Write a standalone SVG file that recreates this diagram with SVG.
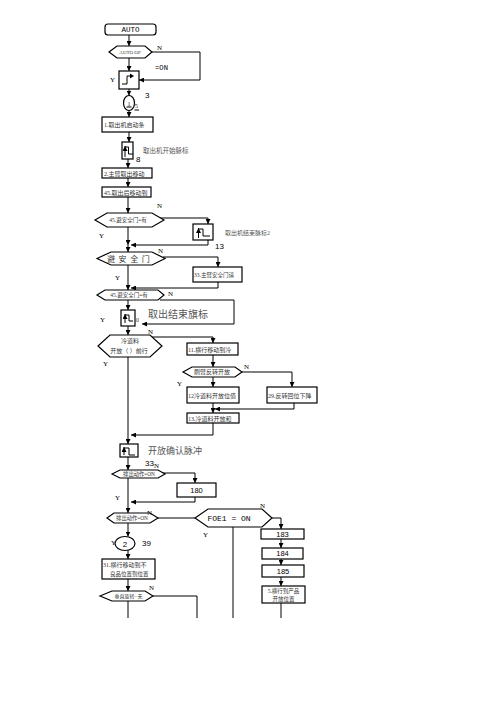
<svg xmlns="http://www.w3.org/2000/svg" width="496" height="702" viewBox="0 0 496 702">
<defs>
<marker id="ah" markerWidth="5" markerHeight="5" refX="5" refY="2.5" orient="auto" markerUnits="userSpaceOnUse"><path d="M0,0 L5,2.5 L0,5 z" fill="#000"/></marker>
<style>
.box{fill:#fff;stroke:#000;stroke-width:1.2}
.ln{fill:none;stroke:#000;stroke-width:1}
.a{marker-end:url(#ah)}
.sym{fill:none;stroke:#000;stroke-width:1}
.t{font-family:"Liberation Serif","Noto Sans CJK SC",serif;fill:#333}
.g{fill:#555}
.m{font-family:"Liberation Mono",monospace;fill:#000}
.s{font-family:"Liberation Sans",sans-serif;fill:#000}
.lb{font-family:"Liberation Serif",serif;font-size:7px;fill:#000}
.c{text-anchor:middle}
</style>
</defs>
<rect width="496" height="702" fill="#fff"/>

<g id="connectors">
<path class="ln a" d="M129,35 V46"/>
<path class="ln a" d="M129,58 V71"/>
<path class="ln a" d="M152,52 H200 V80 H139"/>
<path class="ln a" d="M129,89 V95.5"/>
<path class="ln a" d="M129,110.5 V117"/>
<path class="ln a" d="M129,132 V142"/>
<path class="ln a" d="M128,159 V168"/>
<path class="ln a" d="M128,178 V187"/>
<path class="ln a" d="M128,197 V213"/>
<path class="ln a" d="M160,218 H208 V224"/>
<path class="ln a" d="M128,227 V245"/>
<path class="ln a" d="M208,240 V245 H131"/>
<path class="ln a" d="M128,245 V252"/>
<path class="ln a" d="M163,257 H218 V267"/>
<path class="ln a" d="M128,265 V290"/>
<path class="ln a" d="M218,282 V288 H131"/>
<path class="ln a" d="M160,300 H234 V324 H142"/>
<path class="ln a" d="M128,300 V310"/>
<path class="ln a" d="M128,326 V335"/>
<path class="ln a" d="M152,337 H213 V343"/>
<path class="ln a" d="M128,357 V444"/>
<path class="ln a" d="M213,423 V435 H131"/>
<path class="ln a" d="M213,355 V367"/>
<path class="ln a" d="M242,372 H292 V387"/>
<path class="ln a" d="M213,377 V387"/>
<path class="ln a" d="M294,403 V409 H215"/>
<path class="ln a" d="M213,403 V413"/>
<path class="ln a" d="M128,457 V470"/>
<path class="ln a" d="M160,473 H195 V483"/>
<path class="ln a" d="M128,478 V513"/>
<path class="ln a" d="M195,497 V502 H131"/>
<path class="ln" d="M158,518 H195"/>
<path class="ln a" d="M128,523 V536.5"/>
<path class="ln a" d="M128,550 V559"/>
<path class="ln a" d="M128,579 V591"/>
<path class="ln" d="M153,596 H197 V618"/>
<path class="ln" d="M128,601 V618"/>
<path class="ln" d="M233,527 V618"/>
<path class="ln a" d="M272,518 H281 V529"/>
<path class="ln a" d="M281,539 V548"/>
<path class="ln a" d="M281,559 V565"/>
<path class="ln a" d="M281,577 V586"/>
<path class="ln" d="M281,603 V618"/>
</g>

<g id="n-auto">
<rect class="box" x="105" y="24" width="51" height="11" rx="3"/>
<text class="m c" x="130.5" y="32" font-size="7.5">AUTO</text>
</g>
<g id="n-autoop">
<polygon class="box" points="109,52 117,46 145,46 152,52 145,58 117,58"/>
<text class="t c" x="130" y="54" font-size="5">AUTO OP</text>
<text class="lb" x="157" y="50">N</text>
<text class="m" x="155" y="70" font-size="7.2">=ON</text>
</g>
<g id="n-pulse3">
<rect class="box" x="119" y="71" width="20" height="18"/>
<polyline class="sym" points="122,84 127,84 127,76 131,76"/>
<polygon points="130,73.5 134,76 130,78.5" fill="#000"/>
<text class="lb" x="110" y="82">Y</text>
<text class="s" x="145" y="98" font-size="8">3</text>
</g>
<g id="n-circle1">
<ellipse class="box" cx="129" cy="103" rx="5.5" ry="7.5"/>
<text class="t c" x="129" y="105.5" font-size="7">1</text>
<line class="sym" x1="126.5" y1="107" x2="131.5" y2="107" stroke-width="0.7"/>
<text class="t" x="134.5" y="108" font-size="7">5</text>
<line class="sym" x1="134.5" y1="110" x2="139" y2="110" stroke-width="0.7"/>
</g>
<g id="n-box1">
<rect class="box" x="102" y="117" width="51" height="15"/>
<text class="t" x="104" y="127" font-size="6">1.取出机启动条</text>
</g>
<g id="n-pulse8">
<rect class="box" x="122" y="142" width="11" height="17"/>
<path class="sym a" d="M125,157 V146"/>
<polyline class="sym" points="125,147 128.5,147 128.5,154 133,154"/>
<text class="t g" x="143" y="153" font-size="6.5">取出机开始脉标</text>
<text class="s" x="136" y="162" font-size="8">8</text>
</g>
<g id="n-box2">
<rect class="box" x="102" y="168" width="50" height="10"/>
<text class="t" x="104" y="175.5" font-size="6">2.主臂取出移动</text>
</g>
<g id="n-box45">
<rect class="box" x="102" y="187" width="49" height="10"/>
<text class="t" x="104" y="194.5" font-size="6">45.取出后移动到</text>
</g>
<g id="n-hex2">
<polygon class="box" points="95,220 107,213 152,213 164,220 152,227 107,227"/>
<text class="t c" x="128" y="222" font-size="5.5">45.避安全门=有</text>
<text class="lb" x="157" y="208">N</text>
<text class="lb" x="99" y="238">Y</text>
</g>
<g id="n-pulse13">
<rect class="box" x="193" y="224" width="20" height="16"/>
<path class="sym a" d="M198.5,238 V228"/>
<polyline class="sym" points="198.5,229 203,229 203,236 210,236"/>
<text class="t g" x="225" y="235" font-size="6">取出机结束脉标2</text>
<text class="s" x="215" y="249" font-size="8">13</text>
</g>
<g id="n-hex3">
<polygon class="box" points="97,258.5 111,252 152,252 165,258.5 152,265 111,265"/>
<text class="t" x="107" y="261.5" font-size="8" letter-spacing="0.8">避 安 全 门</text>
<text class="lb" x="158" y="253">N</text>
<text class="lb" x="115" y="280">Y</text>
</g>
<g id="n-box33">
<rect class="box" x="193" y="267" width="49" height="15"/>
<text class="t" x="194" y="276.5" font-size="5.5">33.主臂安全门请</text>
</g>
<g id="n-hex4">
<polygon class="box" points="97,295 105,290 158,290 164,295 158,300 105,300"/>
<text class="t c" x="129" y="297" font-size="5.5">45.避安全门=有</text>
<text class="lb" x="168" y="296">N</text>
<text class="lb" x="100" y="322">Y</text>
</g>
<g id="n-pulseD">
<rect class="box" x="121" y="310" width="14" height="16"/>
<path class="sym a" d="M125,323 V314"/>
<polyline class="sym" points="125,315 129,315 129,321 133,321"/>
<text class="t" x="136" y="321.5" font-size="6">0</text>
<text class="t g" x="148" y="318" font-size="10">取出结束旗标</text>
</g>
<g id="n-hex5">
<polygon class="box" points="98,346 110,335 150,335 162,346 150,357 110,357"/>
<text class="t c" x="130" y="342.5" font-size="6">冷道料</text>
<text class="t c" x="129" y="353" font-size="6">开放（ ）前行</text>
<text class="lb" x="148" y="334">N</text>
<text class="lb" x="103" y="366">Y</text>
</g>
<g id="n-box11">
<rect class="box" x="187" y="343" width="51" height="12"/>
<text class="t" x="188" y="351.5" font-size="6">11.横行移动到冷</text>
</g>
<g id="n-hex6">
<polygon class="box" points="183,372 192,367 235,367 242,372 235,377 192,377"/>
<text class="t c" x="212" y="374" font-size="6">刷臂反转开放</text>
<text class="lb" x="244" y="369">N</text>
<text class="lb" x="177" y="386">Y</text>
</g>
<g id="n-box12">
<rect class="box" x="187" y="387" width="52" height="16"/>
<text class="t" x="188" y="397.5" font-size="6">12冷道料开放位值</text>
</g>
<g id="n-box29">
<rect class="box" x="267" y="387" width="50" height="16"/>
<text class="t" x="268" y="397.5" font-size="6">29.反转回位下降</text>
</g>
<g id="n-box13">
<rect class="box" x="187" y="413" width="52" height="10"/>
<text class="t" x="188" y="420.5" font-size="6">13.冷道料开放和</text>
</g>
<g id="n-pulseE">
<rect class="box" x="120" y="444" width="18" height="13"/>
<path class="sym a" d="M124,455 V447"/>
<polyline class="sym" points="124,448 129,448 129,455 135,455"/>
<text class="t g" x="148" y="454" font-size="9">开放确认脉冲</text>
<text class="s" x="145" y="466" font-size="8">33</text>
</g>
<g id="n-hex7">
<polygon class="box" points="112,474 120,470 158,470 165,474 158,478 120,478"/>
<text class="t c" x="139" y="476" font-size="5.3">排出动作=ON</text>
<text class="lb" x="154" y="468">N</text>
<text class="lb" x="115" y="500">Y</text>
</g>
<g id="n-box180">
<rect class="box" x="177" y="483" width="39" height="14"/>
<text class="s c" x="196.5" y="493" font-size="7.5">180</text>
</g>
<g id="n-hex8">
<polygon class="box" points="107,518 114,513 150,513 158,518 150,523 114,523"/>
<text class="t c" x="132" y="520" font-size="5.3">排出动作=ON</text>
<text class="lb" x="147" y="515">N</text>
</g>
<g id="n-foe1">
<polygon class="box" points="195,518 208,509 262,509 272,518 262,527 208,527"/>
<text class="m c" x="229" y="521" font-size="8">FOE1 = ON</text>
<text class="lb" x="260" y="508">N</text>
<text class="lb" x="203" y="537">Y</text>
</g>
<g id="n-circle2">
<ellipse class="box" cx="125" cy="543.5" rx="10" ry="7"/>
<text class="s c" x="125" y="546.5" font-size="8">2</text>
<text class="lb" x="111" y="545">Y</text>
<text class="s" x="142" y="546" font-size="8">39</text>
</g>
<g id="n-box31">
<rect class="box" x="102" y="559" width="53" height="20"/>
<text class="t" x="103" y="566.5" font-size="6">31.横行移动到不</text>
<text class="t" x="110" y="575.5" font-size="5.5">良品位置到位置</text>
</g>
<g id="n-hex9">
<polygon class="box" points="100,596 112,591 145,591 153,596 145,601 112,601"/>
<text class="t c" x="128.5" y="598" font-size="5">垂直旋转=无</text>
<text class="lb" x="149" y="590">N</text>
</g>
<g id="n-box183">
<rect class="box" x="261" y="529" width="43" height="10"/>
<text class="s c" x="282.5" y="536.5" font-size="7.5">183</text>
</g>
<g id="n-box184">
<rect class="box" x="262" y="548" width="41" height="11"/>
<text class="s c" x="282.5" y="556" font-size="7.5">184</text>
</g>
<g id="n-box185">
<rect class="box" x="262" y="565" width="42" height="12"/>
<text class="s c" x="283" y="573.5" font-size="7.5">185</text>
</g>
<g id="n-box5">
<rect class="box" x="262" y="586" width="43" height="17"/>
<text class="t c" x="283.5" y="593" font-size="5.5">5.横行到产品</text>
<text class="t c" x="283.5" y="600.5" font-size="5.5">开放位置</text>
</g>
</svg>
